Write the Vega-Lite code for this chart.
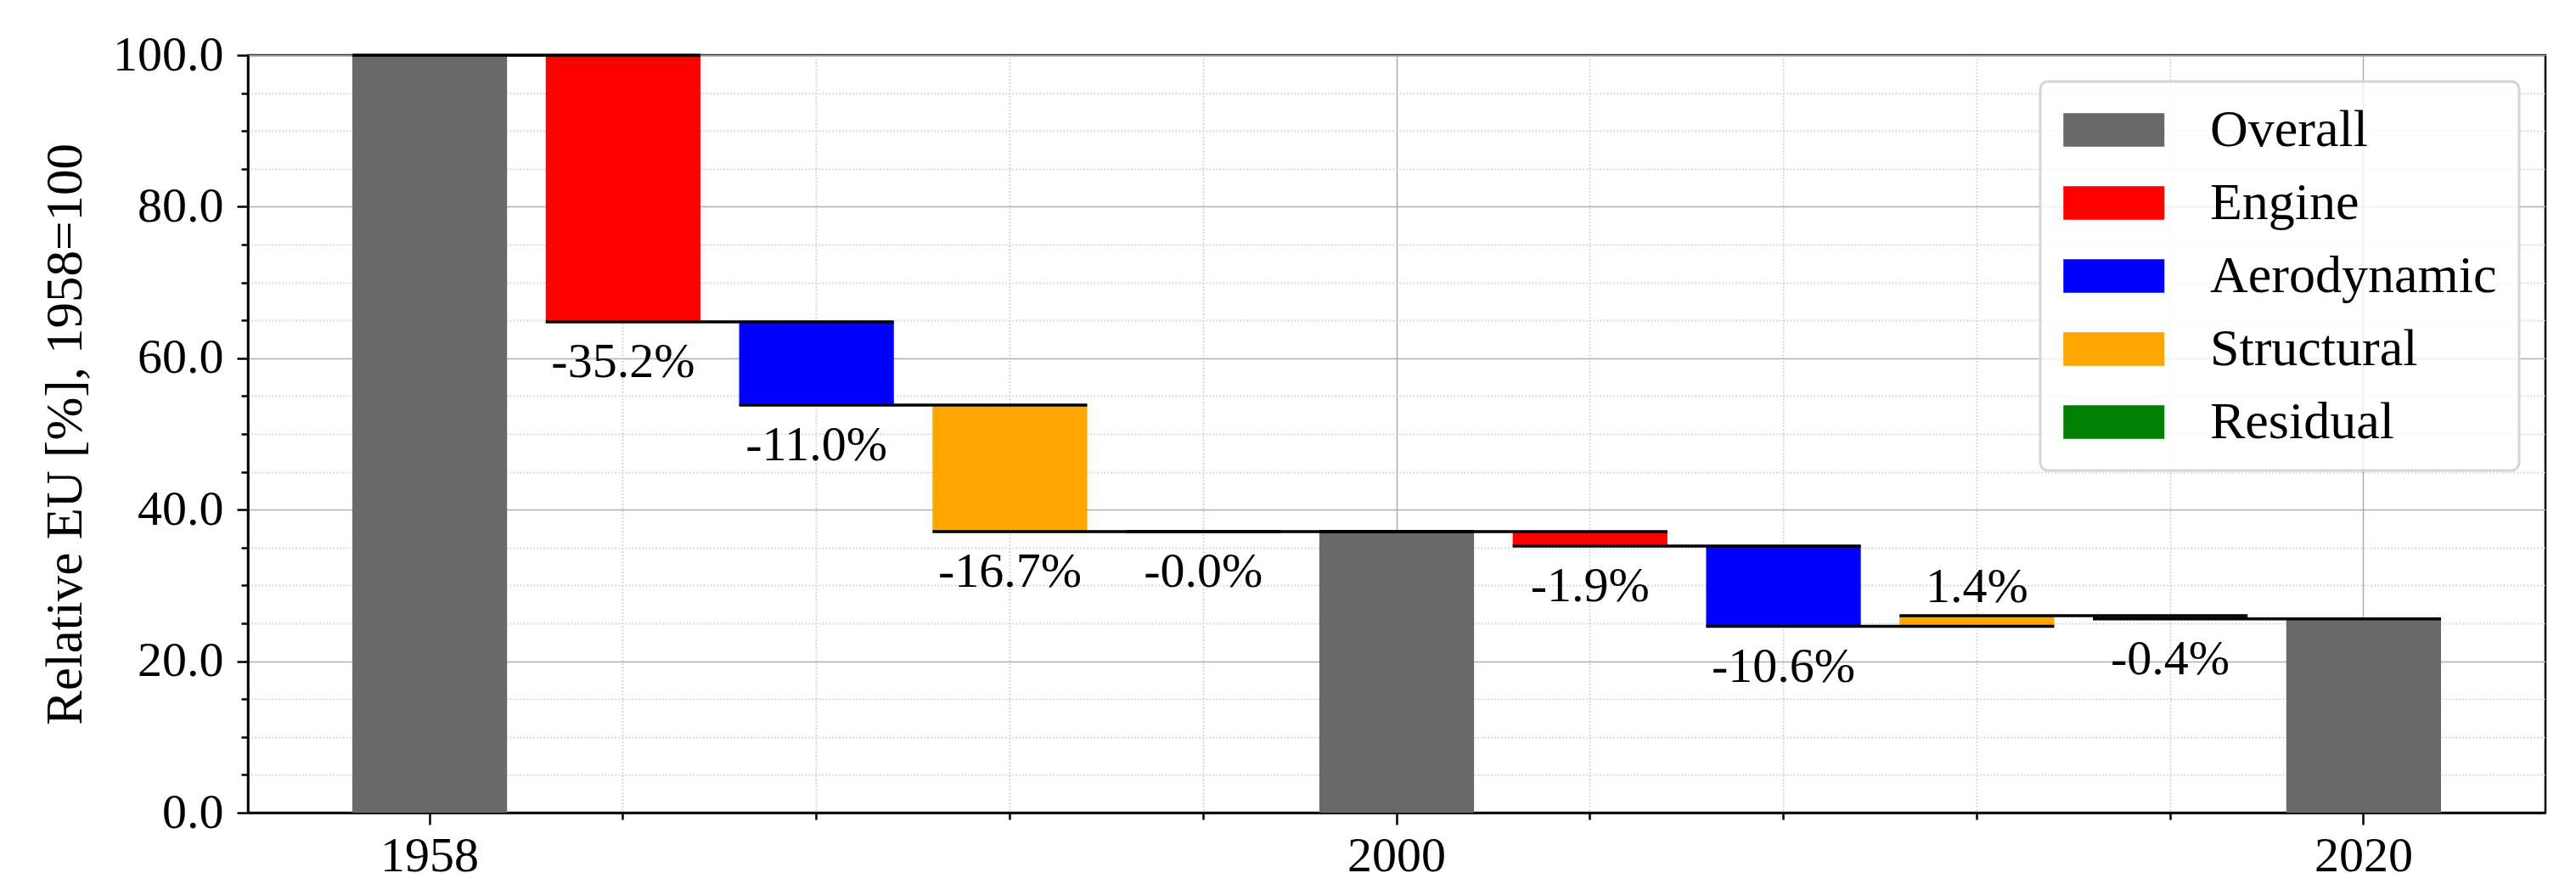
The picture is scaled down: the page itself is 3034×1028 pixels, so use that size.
{
  "$schema": "https://vega.github.io/schema/vega-lite/v6.json",
  "width": 2706,
  "height": 892,
  "autosize": {"type": "none"},
  "padding": {"left": 292, "top": 65, "right": 36, "bottom": 71},
  "background": "white",
  "data": {
    "values": [
      {"cat": "1958", "next": "Engine (1958–2000)", "kind": "Overall", "start": 0, "end": 100, "label": ""},
      {"cat": "Engine (1958–2000)", "next": "Aerodynamic (1958–2000)", "kind": "Engine", "start": 100, "end": 64.8, "label": "-35.2%"},
      {"cat": "Aerodynamic (1958–2000)", "next": "Structural (1958–2000)", "kind": "Aerodynamic", "start": 64.8, "end": 53.8, "label": "-11.0%"},
      {"cat": "Structural (1958–2000)", "next": "Residual (1958–2000)", "kind": "Structural", "start": 53.8, "end": 37.1, "label": "-16.7%"},
      {"cat": "Residual (1958–2000)", "next": "2000", "kind": "Residual", "start": 37.1, "end": 37.1, "label": "-0.0%"},
      {"cat": "2000", "next": "Engine (2000–2020)", "kind": "Overall", "start": 0, "end": 37.1, "label": ""},
      {"cat": "Engine (2000–2020)", "next": "Aerodynamic (2000–2020)", "kind": "Engine", "start": 37.1, "end": 35.2, "label": "-1.9%"},
      {"cat": "Aerodynamic (2000–2020)", "next": "Structural (2000–2020)", "kind": "Aerodynamic", "start": 35.2, "end": 24.6, "label": "-10.6%"},
      {"cat": "Structural (2000–2020)", "next": "Residual (2000–2020)", "kind": "Structural", "start": 24.6, "end": 26.0, "label": "1.4%"},
      {"cat": "Residual (2000–2020)", "next": "2020", "kind": "Residual", "start": 26.0, "end": 25.6, "label": "-0.4%"},
      {"cat": "2020", "next": null, "kind": "Overall", "start": 0, "end": 25.6, "label": ""}
    ]
  },
  "config": {
    "view": {"stroke": "black", "strokeWidth": 2.5},
    "font": "Liberation Serif",
    "legend": {"strokeWidth": 3},
    "axis": {
      "zindex": 1,
      "domainColor": "black",
      "domainWidth": 2.5,
      "tickColor": "black",
      "tickWidth": 2.5,
      "labelFont": "Liberation Serif",
      "labelFontSize": 58,
      "labelColor": "black",
      "titleFont": "Liberation Serif",
      "titleFontSize": 61,
      "titleFontWeight": "normal",
      "titleColor": "black",
      "gridWidth": 1.6,
      "labelOverlap": false
    }
  },
  "encoding": {
    "x": {
      "field": "cat",
      "type": "nominal",
      "scale": {
        "domain": ["1958", "Engine (1958–2000)", "Aerodynamic (1958–2000)", "Structural (1958–2000)", "Residual (1958–2000)", "2000", "Engine (2000–2020)", "Aerodynamic (2000–2020)", "Structural (2000–2020)", "Residual (2000–2020)", "2020"],
        "paddingInner": 0.2,
        "paddingOuter": 0.54
      },
      "axis": {
        "title": null,
        "grid": true,
        "bandPosition": 0.5,
        "labelAngle": 0,
        "labelPadding": 8,
        "labelFont": "Liberation Serif",
        "labelExpr": "indexof(['1958','2000','2020'], datum.label) >= 0 ? datum.label : ''",
        "tickSize": {"condition": {"test": "indexof(['1958','2000','2020'], datum.value) >= 0", "value": 14}, "value": 8},
        "gridDash": {"condition": {"test": "indexof(['1958','2000','2020'], datum.value) >= 0", "value": []}, "value": [1.5, 2.5]},
        "gridColor": {"condition": {"test": "indexof(['1958','2000','2020'], datum.value) >= 0", "value": "#b0b0b0"}, "value": "#c4c4c4"}
      }
    },
    "y": {
      "field": "end",
      "type": "quantitative",
      "scale": {"domain": [0, 100], "nice": false, "zero": true},
      "axis": {
        "title": "Relative EU [%], 1958=100",
        "titleFont": "Liberation Serif",
        "titleFontSize": 61,
        "titleFontWeight": "normal",
        "labelFont": "Liberation Serif",
        "values": [0, 5, 10, 15, 20, 25, 30, 35, 40, 45, 50, 55, 60, 65, 70, 75, 80, 85, 90, 95, 100],
        "labelExpr": "datum.value % 20 === 0 ? format(datum.value, '.1f') : ''",
        "labelPadding": 16,
        "titlePadding": 24,
        "tickSize": {"condition": {"test": "datum.value % 20 === 0", "value": 13}, "value": 8},
        "gridDash": {"condition": {"test": "datum.value % 20 === 0", "value": []}, "value": [1.5, 2.5]},
        "gridColor": {"condition": {"test": "datum.value % 20 === 0", "value": "#b0b0b0"}, "value": "#c4c4c4"}
      }
    }
  },
  "layer": [
    {
      "mark": {"type": "bar"},
      "encoding": {
        "y2": {"field": "start"},
        "color": {
          "field": "kind",
          "type": "nominal",
          "scale": {
            "domain": ["Overall", "Engine", "Aerodynamic", "Structural", "Residual"],
            "range": ["#696969", "#ff0000", "#0000ff", "#ffa500", "#008000"]
          },
          "legend": {
            "orient": "top-right",
            "offset": 31,
            "title": null,
            "labelFont": "Liberation Serif",
            "labelFontSize": 62,
            "labelColor": "black",
            "labelLimit": 0,
            "symbolType": "M-1,-0.66H3V0.66H-1Z",
            "symbolSize": 3540,
            "symbolStrokeWidth": 0,
            "symbolOpacity": 1,
            "labelOffset": 112,
            "rowPadding": 24,
            "padding": 26,
            "strokeColor": "#d5d5d5",
            "fillColor": "rgba(255,255,255,0.8)",
            "cornerRadius": 9,
            "zindex": 2
          }
        }
      }
    },
    {
      "transform": [{"filter": "datum.next != null"}],
      "mark": {"type": "rule", "color": "black", "strokeWidth": 3.5},
      "encoding": {
        "x": {
          "field": "cat",
          "type": "nominal",
          "bandPosition": 0,
          "scale": {
            "domain": ["1958", "Engine (1958–2000)", "Aerodynamic (1958–2000)", "Structural (1958–2000)", "Residual (1958–2000)", "2000", "Engine (2000–2020)", "Aerodynamic (2000–2020)", "Structural (2000–2020)", "Residual (2000–2020)", "2020"],
            "paddingInner": 0.2,
            "paddingOuter": 0.54
          },
          "axis": {
            "title": null,
            "grid": true,
            "bandPosition": 0.5,
            "labelAngle": 0,
            "labelPadding": 8,
            "labelFont": "Liberation Serif",
            "labelExpr": "indexof(['1958','2000','2020'], datum.label) >= 0 ? datum.label : ''",
            "tickSize": {"condition": {"test": "indexof(['1958','2000','2020'], datum.value) >= 0", "value": 14}, "value": 8},
            "gridDash": {"condition": {"test": "indexof(['1958','2000','2020'], datum.value) >= 0", "value": []}, "value": [1.5, 2.5]},
            "gridColor": {"condition": {"test": "indexof(['1958','2000','2020'], datum.value) >= 0", "value": "#b0b0b0"}, "value": "#c4c4c4"}
          }
        },
        "x2": {"field": "next", "bandPosition": 1}
      }
    },
    {
      "transform": [{"filter": "indexof(datum.label, '-') === 0"}],
      "mark": {"type": "text", "font": "Liberation Serif", "fontSize": 58, "baseline": "alphabetic", "align": "center", "dy": 65, "color": "black"},
      "encoding": {
        "text": {"field": "label"}
      }
    },
    {
      "transform": [{"filter": "datum.label !== '' && indexof(datum.label, '-') !== 0"}],
      "mark": {"type": "text", "font": "Liberation Serif", "fontSize": 58, "baseline": "alphabetic", "align": "center", "dy": -16, "color": "black"},
      "encoding": {
        "text": {"field": "label"}
      }
    }
  ]
}
